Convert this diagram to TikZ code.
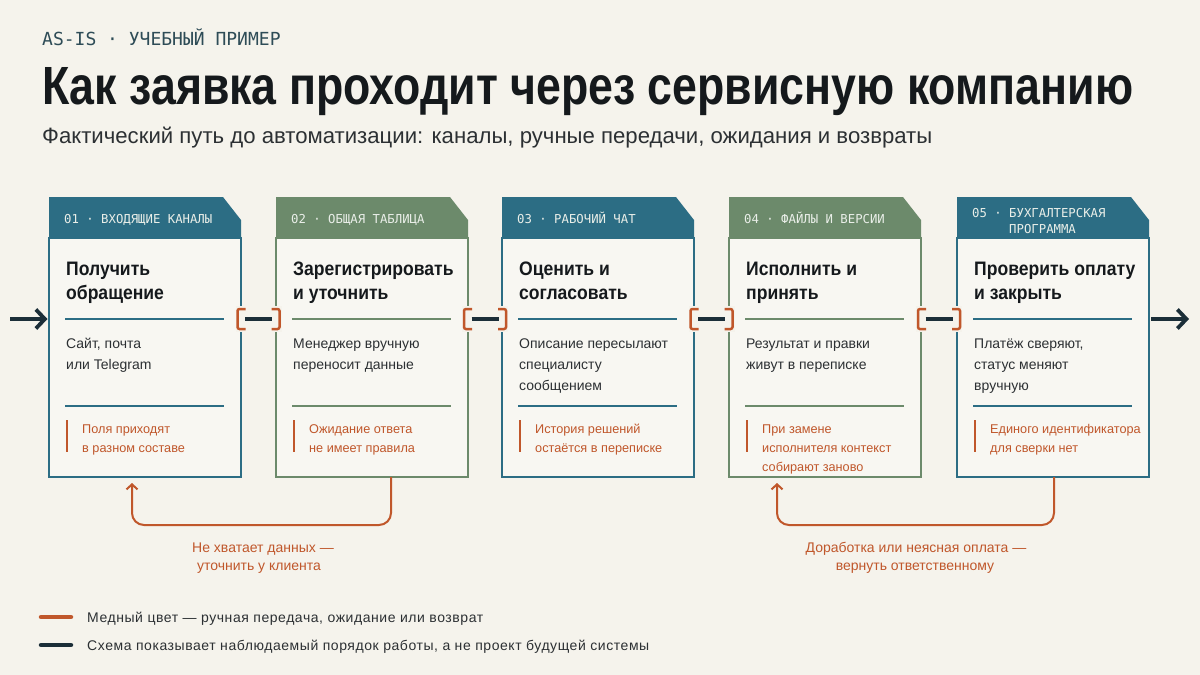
\documentclass[tikz,border=0pt]{standalone}
\usepackage{fontspec}
\usepackage{graphicx}
\setmainfont{Liberation Sans}
\newfontfamily\monof{DejaVu Sans Mono}
\newfontfamily\condf[FakeStretch=0.9]{Liberation Sans}
\newfontfamily\legf[LetterSpace=4]{Liberation Sans}
\usetikzlibrary{arrows.meta,calc}

\definecolor{bgc}{HTML}{F5F3EC}
\definecolor{cardfill}{HTML}{F8F7F2}
\definecolor{teal}{HTML}{2C6D84}
\definecolor{sage}{HTML}{6C8A6B}
\definecolor{copper}{HTML}{C0572B}
\definecolor{navy}{HTML}{1B2E38}
\definecolor{ink}{HTML}{15191C}
\definecolor{bodyc}{HTML}{2C3033}
\definecolor{hdrtxt}{HTML}{E9EEE8}
\definecolor{kick}{HTML}{2E4C57}

\newcommand\stk[2]{\vtop{\baselineskip=#1\lineskiplimit=-\maxdimen #2}}

\tikzset{
 cardbody/.style={draw, line width=1.4pt, fill=cardfill, minimum width=192pt, minimum height=239pt, inner sep=0pt, outer sep=0pt},
 hdrtext/.style={font=\monof\fontsize{12.3}{14}\selectfont, text=hdrtxt, inner sep=0pt, anchor=base west},
 cardtitle/.style={font=\condf\bfseries\fontsize{19.5}{24}\selectfont, text=ink, inner sep=0pt, anchor=base west},
 bodytext/.style={font=\fontsize{14}{21}\selectfont, text=bodyc, inner sep=0pt, anchor=base west},
 notetext/.style={font=\fontsize{12.7}{19}\selectfont, text=copper, inner sep=0pt, anchor=base west},
 looplabel/.style={font=\fontsize{14}{18}\selectfont, text=copper, inner sep=0pt, anchor=base},
 divider/.style={line width=1.2pt},
 notebar/.style={draw=copper, line width=2.4pt},
 flow/.style={draw=navy, line width=3.8pt, -{Straight Barb[length=9pt,width=19pt]}},
 backflow/.style={draw=copper, line width=2pt, rounded corners=12pt, -{Straight Barb[length=5pt,width=11pt]}},
 bracketline/.style={draw=copper, line width=2.5pt, rounded corners=2pt},
 handdash/.style={draw=navy, line width=4pt},
 legline/.style={line width=4.5pt, line cap=round},
 legtext/.style={font=\legf\fontsize{14}{16}\selectfont, text=bodyc, inner sep=0pt, anchor=base west},
}

\newcommand\card[7]{%
  \node[cardbody, draw=#3] (#1) at (#2+96, 357.5) {};
  \fill[#3] (#1.north west) -- ++(0,-41) -- ++(174,0) -- ++(18,23) -- (#1.north east) -- cycle;
  \node[hdrtext] (#1h) at ([shift={(15,-15)}]#1.north west) {#4};
  \node[cardtitle] (#1t) at ([shift={(17,37)}]#1.north west) {\stk{24pt}{#5}};
  \draw[divider, draw=#3] ([shift={(16,81)}]#1.north west) -- ([shift={(-17,81)}]#1.north east);
  \node[bodytext] (#1b) at ([shift={(17,110)}]#1.north west) {\stk{21pt}{#6}};
  \draw[divider, draw=#3] ([shift={(16,168)}]#1.north west) -- ([shift={(-17,168)}]#1.north east);
  \draw[notebar] ([shift={(18,182)}]#1.north west) -- ++(0,32);
  \node[notetext] (#1n) at ([shift={(33,195)}]#1.north west) {\stk{19pt}{#7}};
}

\newcommand\handoff[3]{%
  \coordinate (#1) at ($(#2.north east)!0.5!(#3.north west)+(0,81)$);
  \fill[bgc] ([shift={(-23,-13)}]#1) rectangle ([shift={(23,13)}]#1);
  \draw[bracketline] ([shift={(-13,-10)}]#1) -- ++(-8,0) -- ++(0,20) -- ++(8,0);
  \draw[bracketline] ([shift={(13,-10)}]#1) -- ++(8,0) -- ++(0,20) -- ++(-8,0);
  \draw[handdash] ([xshift=-13.5pt]#1) -- ([xshift=13.5pt]#1);
}

\begin{document}
\begin{tikzpicture}[x=1pt,y=-1pt]
\fill[bgc] (0,0) rectangle (1200,675);
\useasboundingbox (0,0) rectangle (1200,675);

% header texts
\node[anchor=base west, inner sep=0pt, text=kick, font=\monof\fontsize{18}{20}\selectfont] (kicker) at (42,45) {AS-IS · УЧЕБНЫЙ ПРИМЕР};
\node[anchor=base west, inner sep=0pt, text=ink] (title) at (42,104) {\resizebox{1091pt}{37pt}{\bfseries Как заявка проходит через сервисную компанию}};
\node[anchor=base west, inner sep=0pt, text=bodyc] (subtitle) at (42,143) {\resizebox{890pt}{!}{\fontsize{20}{24}\selectfont Фактический путь до автоматизации: каналы, ручные передачи, ожидания и возвраты}};

% cards
\card{c1}{49}{teal}{01 · ВХОДЯЩИЕ КАНАЛЫ}{\hbox{Получить}\hbox{обращение}}{\hbox{Сайт, почта}\hbox{или Telegram}}{\hbox{Поля приходят}\hbox{в разном составе}}
\card{c2}{276}{sage}{02 · ОБЩАЯ ТАБЛИЦА}{\hbox{Зарегистрировать}\hbox{и уточнить}}{\hbox{Менеджер вручную}\hbox{переносит данные}}{\hbox{Ожидание ответа}\hbox{не имеет правила}}
\card{c3}{502}{teal}{03 · РАБОЧИЙ ЧАТ}{\hbox{Оценить и}\hbox{согласовать}}{\hbox{Описание пересылают}\hbox{специалисту}\hbox{сообщением}}{\hbox{История решений}\hbox{остаётся в переписке}}
\card{c4}{729}{sage}{04 · ФАЙЛЫ И ВЕРСИИ}{\hbox{Исполнить и}\hbox{принять}}{\hbox{Результат и правки}\hbox{живут в переписке}}{\hbox{При замене}\hbox{исполнителя контекст}\hbox{собирают заново}}
\card{c5}{957}{teal}{\raisebox{6pt}{\stk{16pt}{\hbox{05 · БУХГАЛТЕРСКАЯ}\hbox{\phantom{05 · }ПРОГРАММА}}}}{\hbox{Проверить оплату}\hbox{и закрыть}}{\hbox{Платёж сверяют,}\hbox{статус меняют}\hbox{вручную}}{\hbox{Единого идентификатора}\hbox{для сверки нет}}

% handoffs
\handoff{g1}{c1}{c2}
\handoff{g2}{c2}{c3}
\handoff{g3}{c3}{c4}
\handoff{g4}{c4}{c5}

% entry / exit
\coordinate (entry) at (10,319);
\coordinate (exit) at (1189,319);
\draw[flow, shorten >=1.5pt] (entry) -- (entry -| c1.west);
\draw[flow, shorten <=2pt] (exit -| c5.east) -- (exit);

% return loops
\draw[backflow] ([xshift=19pt]c2.south) -- ++(0,48) -| ([shift={(-13,6)}]c1.south);
\draw[backflow] ([xshift=1pt]c5.south) -- ++(0,48) -| ([shift={(-48,6)}]c4.south);
\node[looplabel] (r1a) at (263,552) {Не хватает данных —};
\node[looplabel] (r1b) at (259,570) {уточнить у клиента};
\node[looplabel] (r2a) at (916,552) {Доработка или неясная оплата —};
\node[looplabel] (r2b) at (915,570) {вернуть ответственному};

% legend
\coordinate (l1) at (41,617);
\coordinate (l2) at (41,645);
\draw[legline, copper] (l1) -- ++(30,0);
\draw[legline, navy] (l2) -- ++(30,0);
\node[legtext] (lt1) at ([shift={(46,5)}]l1) {Медный цвет — ручная передача, ожидание или возврат};
\node[legtext] (lt2) at ([shift={(46,5)}]l2) {Схема показывает наблюдаемый порядок работы, а не проект будущей системы};
\end{tikzpicture}
\end{document}
